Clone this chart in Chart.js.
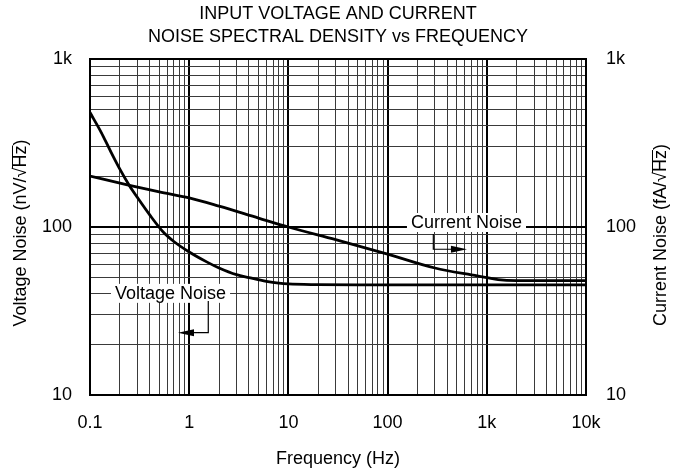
<!DOCTYPE html>
<html><head><meta charset="utf-8">
<script src="https://cdn.jsdelivr.net/npm/chart.js@4.4.1/dist/chart.umd.min.js"></script>
<style>html,body{margin:0;padding:0;background:#fff;}#wrap{width:687px;height:468px;}</style>
</head><body><div id="wrap"><canvas id="c" width="687" height="468"></canvas></div>
<script>
const titleLines = ['INPUT VOLTAGE AND CURRENT', 'NOISE SPECTRAL DENSITY vs FREQUENCY'];
const xAxisTitle = 'Frequency (Hz)';
const yLeftTitle = ['Voltage Noise (nV/\u221A', 'Hz', ')'];
const yRightTitle = ['Current Noise (fA/\u221A', 'Hz', ')'];

const xTickValues = [0.1, 1, 10, 100, 1000, 10000];
const xTickLabels = ['0.1', '1', '10', '100', '1k', '10k'];
const yTickValues = [10, 100, 1000];
const yTickLabels = ['10', '100', '1k'];

const freqVoltage = [0.1, 0.13, 0.16, 0.2, 0.25, 0.3, 0.4, 0.55, 0.7, 1, 1.5, 2, 3, 4, 6, 8, 10, 20, 50, 100, 1000, 10000];
const voltageNoise = [480, 365, 285, 221, 176, 150, 118, 93, 82, 71, 62, 57, 52, 50, 47.5, 46.3, 45.8, 45.4, 45.2, 45.2, 45.2, 45.2];

const freqCurrent = [0.1, 0.25, 0.5, 1, 2, 5, 10, 30, 100, 300, 700, 1000, 1300, 2000, 10000];
const currentNoise = [201, 177, 162, 149, 133, 113, 100, 84, 69, 57, 51.8, 50, 48.6, 48, 48];

// annotation anchors in data space
const currentLabel = { text: 'Current Noise', x: 624, y: 100 };
const currentArrow = { x: 289, y1: 90.8, y2: 73.7, xEnd: 631 };
const voltageLabel = { text: 'Voltage Noise', x: 0.648, y: 40 };
const voltageArrow = { x: 1.557, y1: 36.3, y2: 23.5, xEnd: 0.771 };

const FONT = '"Liberation Sans", Arial, Helvetica, sans-serif';

function isMajor(v) {
  const l = Math.log10(v);
  return Math.abs(l - Math.round(l)) < 1e-6;
}
function logTicks(min, max) {
  const out = [];
  for (let d = Math.round(Math.log10(min)); d < Math.round(Math.log10(max)); d++) {
    for (let m = 1; m <= 9; m++) out.push({ value: m * Math.pow(10, d) });
  }
  out.push({ value: max });
  return out;
}
function labelFor(values, labels, v) {
  for (let i = 0; i < values.length; i++) {
    if (Math.abs(Math.log10(values[i]) - Math.log10(v)) < 1e-6) return labels[i];
  }
  return '';
}

const gridStyle = {
  color: (c) => (c.tick && isMajor(c.tick.value)) ? '#000' : '#3a3a3a',
  lineWidth: (c) => (c.tick && isMajor(c.tick.value)) ? 2 : 1,
  drawTicks: false
};

function drawRotTitle(ctx, parts, cx, cy) {
  ctx.save();
  ctx.translate(cx, cy);
  ctx.rotate(-Math.PI / 2);
  ctx.font = '18px ' + FONT;
  ctx.fillStyle = '#000';
  ctx.textBaseline = 'middle';
  ctx.textAlign = 'left';
  const w0 = ctx.measureText(parts[0]).width;
  const w1 = ctx.measureText(parts[1]).width;
  const w2 = ctx.measureText(parts[2]).width;
  const total = w0 + w1 + w2;
  let x = -total / 2;
  ctx.fillText(parts[0], x, 0);
  ctx.fillText(parts[1], x + w0, 0);
  ctx.fillText(parts[2], x + w0 + w1, 0);
  ctx.strokeStyle = '#000';
  ctx.lineWidth = 1;
  ctx.beginPath();
  ctx.moveTo(x + w0 - 1, -8.5);
  ctx.lineTo(x + w0 + w1, -8.5);
  ctx.stroke();
  ctx.restore();
}

function drawLabel(ctx, text, px, py) {
  ctx.save();
  ctx.font = '18px ' + FONT;
  const w = ctx.measureText(text).width;
  ctx.fillStyle = '#fff';
  ctx.fillRect(px - w / 2 - 4, py - 10, w + 8, 19);
  ctx.fillStyle = '#000';
  ctx.textAlign = 'center';
  ctx.textBaseline = 'middle';
  ctx.fillText(text, px, py);
  ctx.restore();
}

function drawArrow(ctx, xs, ys, a) {
  const x = xs.getPixelForValue(a.x);
  const y1 = ys.getPixelForValue(a.y1);
  const y2 = ys.getPixelForValue(a.y2);
  const xe = xs.getPixelForValue(a.xEnd);
  const dir = xe > x ? 1 : -1;
  ctx.save();
  ctx.strokeStyle = '#000';
  ctx.lineWidth = 1.2;
  ctx.beginPath();
  ctx.moveTo(x, y1);
  ctx.lineTo(x, y2);
  ctx.lineTo(xe - dir * 10, y2);
  ctx.stroke();
  ctx.fillStyle = '#000';
  ctx.beginPath();
  ctx.moveTo(xe, y2);
  ctx.lineTo(xe - dir * 16, y2 - 3.5);
  ctx.lineTo(xe - dir * 16, y2 + 3.5);
  ctx.closePath();
  ctx.fill();
  ctx.restore();
}

const textPlugin = {
  id: 'texts',
  afterDraw(chart) {
    const ctx = chart.ctx;
    const xs = chart.scales.x, ys = chart.scales.y;
    const ca = chart.chartArea;
    const cx = (ca.left + ca.right) / 2;
    ctx.save();
    ctx.font = '18px ' + FONT;
    ctx.fillStyle = '#000';
    ctx.textAlign = 'center';
    ctx.textBaseline = 'middle';
    ctx.fillText(titleLines[0], cx, 14.5);
    ctx.fillText(titleLines[1], cx, 37);
    ctx.fillText(xAxisTitle, cx, 459);
    ctx.restore();
    drawRotTitle(ctx, yLeftTitle, 21, 233);
    drawRotTitle(ctx, yRightTitle, 661, 235);

    drawLabel(ctx, currentLabel.text, xs.getPixelForValue(currentLabel.x), ys.getPixelForValue(currentLabel.y) - 4);
    drawArrow(ctx, xs, ys, currentArrow);
    drawLabel(ctx, voltageLabel.text, xs.getPixelForValue(voltageLabel.x), ys.getPixelForValue(voltageLabel.y));
    drawArrow(ctx, xs, ys, voltageArrow);
  }
};

new Chart(document.getElementById('c'), {
  type: 'line',
  data: {
    datasets: [
      { label: 'Voltage Noise', data: freqVoltage.map((f, i) => ({ x: f, y: voltageNoise[i] })), yAxisID: 'y' },
      { label: 'Current Noise', data: freqCurrent.map((f, i) => ({ x: f, y: currentNoise[i] })), yAxisID: 'y2' }
    ]
  },
  options: {
    responsive: false,
    animation: false,
    devicePixelRatio: 1,
    layout: { padding: { top: 59, left: 0, right: 0, bottom: 0 } },
    elements: {
      point: { radius: 0 },
      line: { borderColor: '#000', borderWidth: 2.8, cubicInterpolationMode: 'monotone', fill: false }
    },
    plugins: { legend: { display: false }, tooltip: { enabled: false }, title: { display: false } },
    scales: {
      x: {
        type: 'logarithmic', min: 0.1, max: 10000,
        afterBuildTicks: (s) => { s.ticks = logTicks(0.1, 10000); },
        afterFit: (s) => { s.height = 73; },
        grid: gridStyle,
        border: { display: true, color: '#000', width: 2 },
        ticks: {
          autoSkip: false, maxRotation: 0, padding: 17, color: '#000',
          font: { family: FONT, size: 18 },
          callback: (v) => labelFor(xTickValues, xTickLabels, v)
        }
      },
      y: {
        type: 'logarithmic', position: 'left', min: 10, max: 1000,
        afterBuildTicks: (s) => { s.ticks = logTicks(10, 1000); },
        afterFit: (s) => { s.width = 90; },
        grid: gridStyle,
        border: { display: true, color: '#000', width: 2 },
        ticks: {
          autoSkip: false, padding: 18, color: '#000',
          font: { family: FONT, size: 18 },
          callback: (v) => labelFor(yTickValues, yTickLabels, v)
        }
      },
      y2: {
        type: 'logarithmic', position: 'right', min: 10, max: 1000,
        afterBuildTicks: (s) => { s.ticks = logTicks(10, 1000); },
        afterFit: (s) => { s.width = 101; },
        grid: { drawOnChartArea: false, drawTicks: false },
        border: { display: true, color: '#000', width: 2 },
        ticks: {
          autoSkip: false, padding: 20, color: '#000',
          font: { family: FONT, size: 18 },
          callback: (v) => labelFor(yTickValues, yTickLabels, v)
        }
      }
    }
  },
  plugins: [textPlugin]
});
</script>
</body></html>
